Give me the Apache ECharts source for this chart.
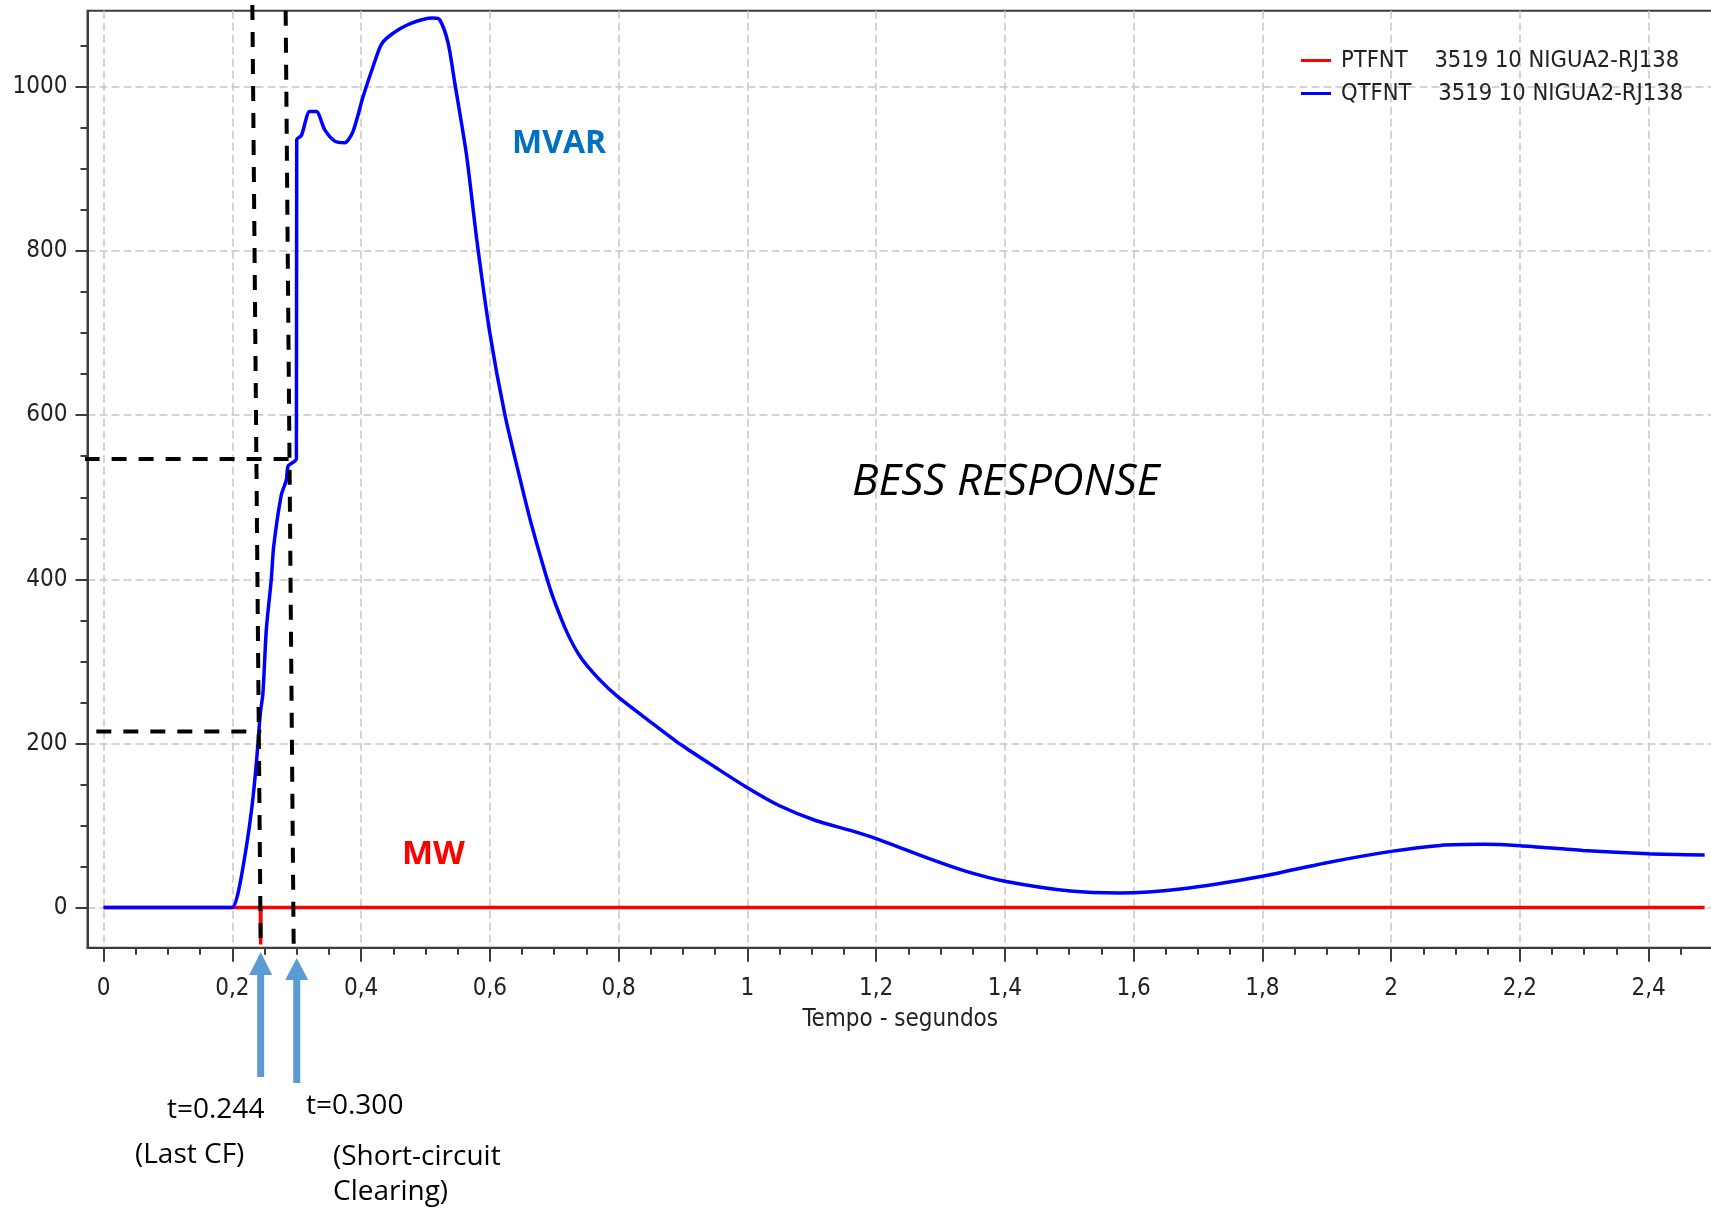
<!DOCTYPE html>
<html>
<head>
<meta charset="utf-8">
<title>BESS response</title>
<script src="https://cdn.jsdelivr.net/npm/echarts@6/dist/echarts.min.js"></script>
<style>
  html, body { margin: 0; padding: 0; background: #fff; }
  #chart { width: 1711px; height: 1210px; }
</style>
</head>
<body>
<div id="chart"></div>
<script>
// QTFNT - reactive power (MVAR)
const tQ = [0, 0.1, 0.19, 0.2, 0.209, 0.222, 0.2305, 0.2373, 0.2435, 0.2475, 0.2528,
  0.2605, 0.2642, 0.2761, 0.2839, 0.2867, 0.2995, 0.3, 0.3073, 0.3202, 0.3305,
  0.3434, 0.359, 0.3745, 0.3875, 0.403, 0.4186, 0.4315, 0.447, 0.4755, 0.5117,
  0.5221, 0.535, 0.5455, 0.5636, 0.58, 0.6, 0.6235, 0.647, 0.6635, 0.689,
  0.7, 0.72, 0.741, 0.77, 0.8, 0.85, 0.8976, 0.95, 1.0, 1.05, 1.106,
  1.16, 1.2, 1.288, 1.34, 1.4, 1.502, 1.579, 1.673, 1.8, 1.896,
  2.0, 2.076, 2.144, 2.2, 2.298, 2.4, 2.487]
const qtfnt = [0, 0, 0, 0, 18, 75, 123, 176, 237, 261, 339,
  400, 440, 503, 521, 538, 547, 936, 941, 970, 970,
  948, 934, 932, 946, 988, 1025, 1052, 1064, 1077, 1084,
  1082, 1054, 1005, 918, 812, 700, 600, 522, 470, 400,
  374, 335, 305, 278, 256, 226, 198, 171, 146, 124, 106,
  94, 84, 58, 44, 32, 20, 17.6, 22.5, 38, 54,
  68.4, 75.7, 77, 75.3, 69.6, 65.6, 64]

// PTFNT - active power (MW)
const tP = [0, 0.2435, 0.244, 0.2445, 2.487]
const ptfnt = [0, 0, -45, 0, 0]

// ticks
const xMajor = [0, 0.2, 0.4, 0.6, 0.8, 1, 1.2, 1.4, 1.6, 1.8, 2, 2.2, 2.4]
const xMinor = [0.05, 0.1, 0.15, 0.25, 0.3, 0.35, 0.45, 0.5, 0.55, 0.65, 0.7, 0.75,
  0.85, 0.9, 0.95, 1.05, 1.1, 1.15, 1.25, 1.3, 1.35, 1.45, 1.5, 1.55, 1.65, 1.7, 1.75,
  1.85, 1.9, 1.95, 2.05, 2.1, 2.15, 2.25, 2.3, 2.35, 2.45]
const yMajor = [0, 200, 400, 600, 800, 1000]
const yMinor = [50, 100, 150, 250, 300, 350, 450, 500, 550, 650, 700, 750, 850, 900, 950, 1050]

// hand drawn dashed guides (data coords)
const guides = [
  [[0.2311, 1100], [0.244, -44]],
  [[0.2828, 1093], [0.2953, -51]],
  [[-0.0295, 546.6], [0.2937, 546.6]],
  [[-0.0113, 214.6], [0.245, 214.6]]
]

// blue arrows below the axis
const arrowTimes = [0.244, 0.300]

const P_NAME = 'PTFNT    3519 10 NIGUA2-RJ138'
const Q_NAME = 'QTFNT    3519 10 NIGUA2-RJ138'

const AXIS_FONT = '"Liberation Sans Narrow", "DejaVu Sans Condensed", sans-serif'
const NOTE_FONT = '"Open Sans"'
const AXIS_COLOR = '#3c3c3c'

const xBase = {
  type: 'value', min: -0.025, max: 2.5, position: 'bottom',
}
const yBase = {
  type: 'value', min: -49, max: 1093, position: 'left',
}

const option = {
  animation: false,
  backgroundColor: '#fff',
  grid: {
    left: 87.5, top: 10.7, width: 1625.5, height: 937,
    outerBoundsMode: 'none',
    show: true, borderColor: AXIS_COLOR, borderWidth: 2,
  },
  legend: {
    data: [P_NAME, Q_NAME],
    orient: 'vertical',
    left: 1301, top: 47.5,
    padding: 0,
    icon: 'rect', itemWidth: 30, itemHeight: 3, itemGap: 7,
    textStyle: {
      fontFamily: AXIS_FONT, fontSize: 23.5, lineHeight: 26, color: '#222',
      padding: [0, 0, 0, 5],
    },
  },
  xAxis: [
    Object.assign({}, xBase, {
      axisLine: { show: true, onZero: false, lineStyle: { color: AXIS_COLOR, width: 2 } },
      axisTick: { show: true, customValues: xMajor, length: 14, lineStyle: { color: AXIS_COLOR, width: 2 } },
      axisLabel: {
        customValues: xMajor, margin: 29, fontSize: 24, fontFamily: AXIS_FONT, color: '#222',
        formatter: (v) => String(v).replace('.', ','),
      },
      splitLine: { show: true, lineStyle: { color: '#c6c6c6', width: 1.5, type: [8, 4] } },
      name: 'Tempo - segundos', nameLocation: 'middle', nameGap: 60,
      nameTextStyle: { fontFamily: AXIS_FONT, fontSize: 24, color: '#222' },
    }),
    Object.assign({}, xBase, {
      axisLine: { show: false, onZero: false },
      axisTick: { show: true, customValues: xMinor, length: 7, lineStyle: { color: AXIS_COLOR, width: 2 } },
      axisLabel: { show: false },
      splitLine: { show: false },
    }),
  ],
  yAxis: [
    Object.assign({}, yBase, {
      axisLine: { show: true, onZero: false, lineStyle: { color: AXIS_COLOR, width: 2 } },
      axisTick: { show: true, customValues: yMajor, length: 12, lineStyle: { color: AXIS_COLOR, width: 2 } },
      axisLabel: {
        customValues: yMajor, margin: 20, fontSize: 24, fontFamily: AXIS_FONT, color: '#222',
        formatter: (v) => String(v),
      },
      splitLine: { show: true, lineStyle: { color: '#c6c6c6', width: 1.5, type: [8, 4] } },
    }),
    Object.assign({}, yBase, {
      axisLine: { show: false, onZero: false },
      axisTick: { show: true, customValues: yMinor, length: 7, lineStyle: { color: AXIS_COLOR, width: 2 } },
      axisLabel: { show: false },
      splitLine: { show: false },
    }),
  ],
  series: [
    {
      name: P_NAME, type: 'line', symbol: 'none', z: 2,
      data: tP.map((t, i) => [t, ptfnt[i]]),
      lineStyle: { color: '#ff0000', width: 3.5 }, itemStyle: { color: '#ff0000' },
    },
    {
      name: Q_NAME, type: 'line', symbol: 'none', z: 3,
      smooth: 0.25,
      data: tQ.map((t, i) => [t, qtfnt[i]]),
      lineStyle: { color: '#0000ff', width: 3.5 }, itemStyle: { color: '#0000ff' },
    },
  ].concat(guides.map((seg) => ({
    type: 'line', symbol: 'none', z: 5, clip: false, silent: true,
    data: seg,
    lineStyle: { color: '#000', width: 4, type: [15, 12] },
  }))),
}

const chart = echarts.init(document.getElementById('chart'))
chart.setOption(option)

// annotations
const arrowGeom = [
  { top: 952, base: 975, bottom: 1077 },
  { top: 958, base: 980, bottom: 1083 },
]
const arrows = arrowTimes.map((t, i) => {
  const x = chart.convertToPixel({ xAxisIndex: 0 }, t)
  const g = arrowGeom[i]
  return {
    type: 'polygon', z: 10,
    shape: {
      points: [
        [x, g.top], [x + 11.5, g.base], [x + 3.5, g.base], [x + 3.5, g.bottom],
        [x - 3.5, g.bottom], [x - 3.5, g.base], [x - 11.5, g.base],
      ],
    },
    style: { fill: '#5b9bd5' },
  }
})

const note = (text, x, y, font, fill) => ({
  type: 'text', z: 10, x: x, y: y,
  style: { text: text, font: font, fill: fill || '#000', align: 'left', verticalAlign: 'middle' },
})

chart.setOption({
  graphic: arrows.concat([
    note('MVAR', 512, 144, 'bold 32px ' + NOTE_FONT, '#0070c0'),
    note('MW', 402, 855, 'bold 33px ' + NOTE_FONT, '#ff0000'),
    note('BESS RESPONSE', 852, 482, 'italic 44px ' + NOTE_FONT),
    note('t=0.244', 167, 1110, '28px ' + NOTE_FONT),
    note('(Last CF)', 135, 1155, '28px ' + NOTE_FONT),
    note('t=0.300', 306, 1106, '28px ' + NOTE_FONT),
    note('(Short-circuit', 333, 1157, '28px ' + NOTE_FONT),
    note('Clearing)', 333, 1192, '28px ' + NOTE_FONT),
  ]),
})
</script>
</body>
</html>
